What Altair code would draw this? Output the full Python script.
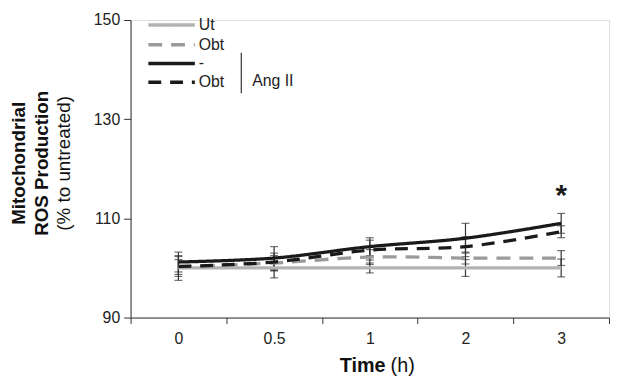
import altair as alt
import pandas as pd

times = ["0", "0.5", "1", "2", "3"]
series_names = ["Ut", "Obt", "Ang II", "Ang II + Obt"]
ut_mean = [100, 100, 100, 100, 100]
ut_err = [2.5, 2.0, 1.0, 1.7, 1.8]
obt_mean = [100.2, 101, 102.2, 102, 102]
obt_err = [1.5, 1.5, 1.5, 1.2, 1.5]
ang_mean = [101.2, 102, 104.3, 106, 109]
ang_err = [2.0, 2.3, 1.8, 3.0, 2.0]
angobt_mean = [100.3, 101.2, 103.6, 104.3, 107.3]
angobt_err = [2.0, 1.8, 2.0, 2.0, 1.2]

star_time = ["3"]
star_value = [114.5]

legend_labels = ["Ut", "Obt", "-", "Obt"]
legend_group = "Ang II"

FONT = "Liberation Sans"
colors = ["#b3b3b3", "#9a9a9a", "#1a1a1a", "#1a1a1a"]
dashes = [[1, 0], [14, 9], [1, 0], [13, 9]]

rows = []
for name, means, errs in zip(series_names,
                             [ut_mean, obt_mean, ang_mean, angobt_mean],
                             [ut_err, obt_err, ang_err, angobt_err]):
    for t, m, e in zip(times, means, errs):
        rows.append({"time": t, "series": name, "value": m,
                     "lo": m - e, "hi": m + e})
df = pd.DataFrame(rows)

W, H = 484, 301

xenc = alt.X("time:N", sort=times, title=None,
             scale=alt.Scale(paddingInner=0, paddingOuter=0),
             axis=alt.Axis(labelAngle=0, tickBand="extent", tickSize=6,
                           labelPadding=7, labelFont=FONT, labelFontSize=16,
                           labelColor="#222", domainColor="#333",
                           tickColor="#333", grid=False))
yscale = alt.Scale(domain=[90, 150], nice=False, zero=False)

base = alt.Chart(df)

err_rule = base.mark_rule(color="#333", strokeWidth=1.2).encode(
    x=xenc, y=alt.Y("lo:Q", scale=yscale), y2="hi:Q")
cap_lo = base.mark_tick(color="#333", thickness=1.2, size=8).encode(
    x=alt.X("time:N", sort=times), y=alt.Y("lo:Q", scale=yscale))
cap_hi = base.mark_tick(color="#333", thickness=1.2, size=8).encode(
    x=alt.X("time:N", sort=times), y=alt.Y("hi:Q", scale=yscale))

lines = base.mark_line(interpolate="catmull-rom", strokeWidth=3.3).encode(
    x=alt.X("time:N", sort=times),
    y=alt.Y("value:Q", scale=yscale, title=None,
            axis=alt.Axis(values=[90, 110, 130, 150], tickSize=7,
                          labelPadding=4, labelFont=FONT, labelFontSize=16,
                          labelColor="#222", domainColor="#333",
                          tickColor="#333", grid=False)),
    color=alt.Color("series:N", scale=alt.Scale(domain=series_names, range=colors), legend=None),
    strokeDash=alt.StrokeDash("series:N", scale=alt.Scale(domain=series_names, range=dashes), legend=None),
    order=alt.Order("time:N"),
)

star = alt.Chart(pd.DataFrame({"time": star_time, "value": star_value})).mark_text(
    text="*", font=FONT, fontSize=30, fontWeight="bold", baseline="middle",
    color="#1a1a1a").encode(x=alt.X("time:N", sort=times), y=alt.Y("value:Q", scale=yscale))

layers = [err_rule, cap_lo, cap_hi, lines, star]

# legend
leg_y = [5, 25, 44, 63]
for lab, c, d, yy in zip(legend_labels, colors, dashes, leg_y):
    layers.append(alt.Chart(pd.DataFrame({"a": [0]})).mark_rule(
        color=c, strokeWidth=3.5, strokeDash=d).encode(
        x=alt.value(18), x2=alt.value(65), y=alt.value(yy)))
    layers.append(alt.Chart(pd.DataFrame({"a": [0]})).mark_text(
        text=lab, font=FONT, fontSize=16, align="left", baseline="middle",
        color="#222").encode(x=alt.value(69), y=alt.value(yy)))
layers.append(alt.Chart(pd.DataFrame({"a": [0]})).mark_rule(
    color="#333", strokeWidth=1.2).encode(
    x=alt.value(112), y=alt.value(33), y2=alt.value(74)))
layers.append(alt.Chart(pd.DataFrame({"a": [0]})).mark_text(
    text=legend_group, font=FONT, fontSize=16, align="left", baseline="middle",
    color="#222").encode(x=alt.value(123), y=alt.value(62)))

# axis titles
ytitle = [("Mitochondrial", "bold", -113), ("ROS Production", "bold", -90),
          ("(% to untreated)", "normal", -67)]
for txt, wt, xx in ytitle:
    layers.append(alt.Chart(pd.DataFrame({"a": [0]})).mark_text(
        text=txt, font=FONT, fontSize=19, fontWeight=wt, angle=270,
        align="center", baseline="middle", color="#111").encode(
        x=alt.value(xx), y=alt.value(145)))
layers.append(alt.Chart(pd.DataFrame({"a": [0]})).mark_text(
    text="Time", font=FONT, fontSize=20, fontWeight="bold", align="right",
    baseline="alphabetic", color="#111").encode(x=alt.value(258), y=alt.value(356)))
layers.append(alt.Chart(pd.DataFrame({"a": [0]})).mark_text(
    text="(h)", font=FONT, fontSize=20, align="left",
    baseline="alphabetic", color="#111").encode(x=alt.value(263), y=alt.value(356)))

chart = alt.layer(*layers).properties(
    width=W, height=H,
    autosize=alt.AutoSizeParams(type="none"),
    padding={"left": 124, "top": 10, "right": 2, "bottom": 60},
).configure_view(stroke=None).configure(background="white")

chart.save("out.html", embed_options={"renderer": "svg", "actions": False})
